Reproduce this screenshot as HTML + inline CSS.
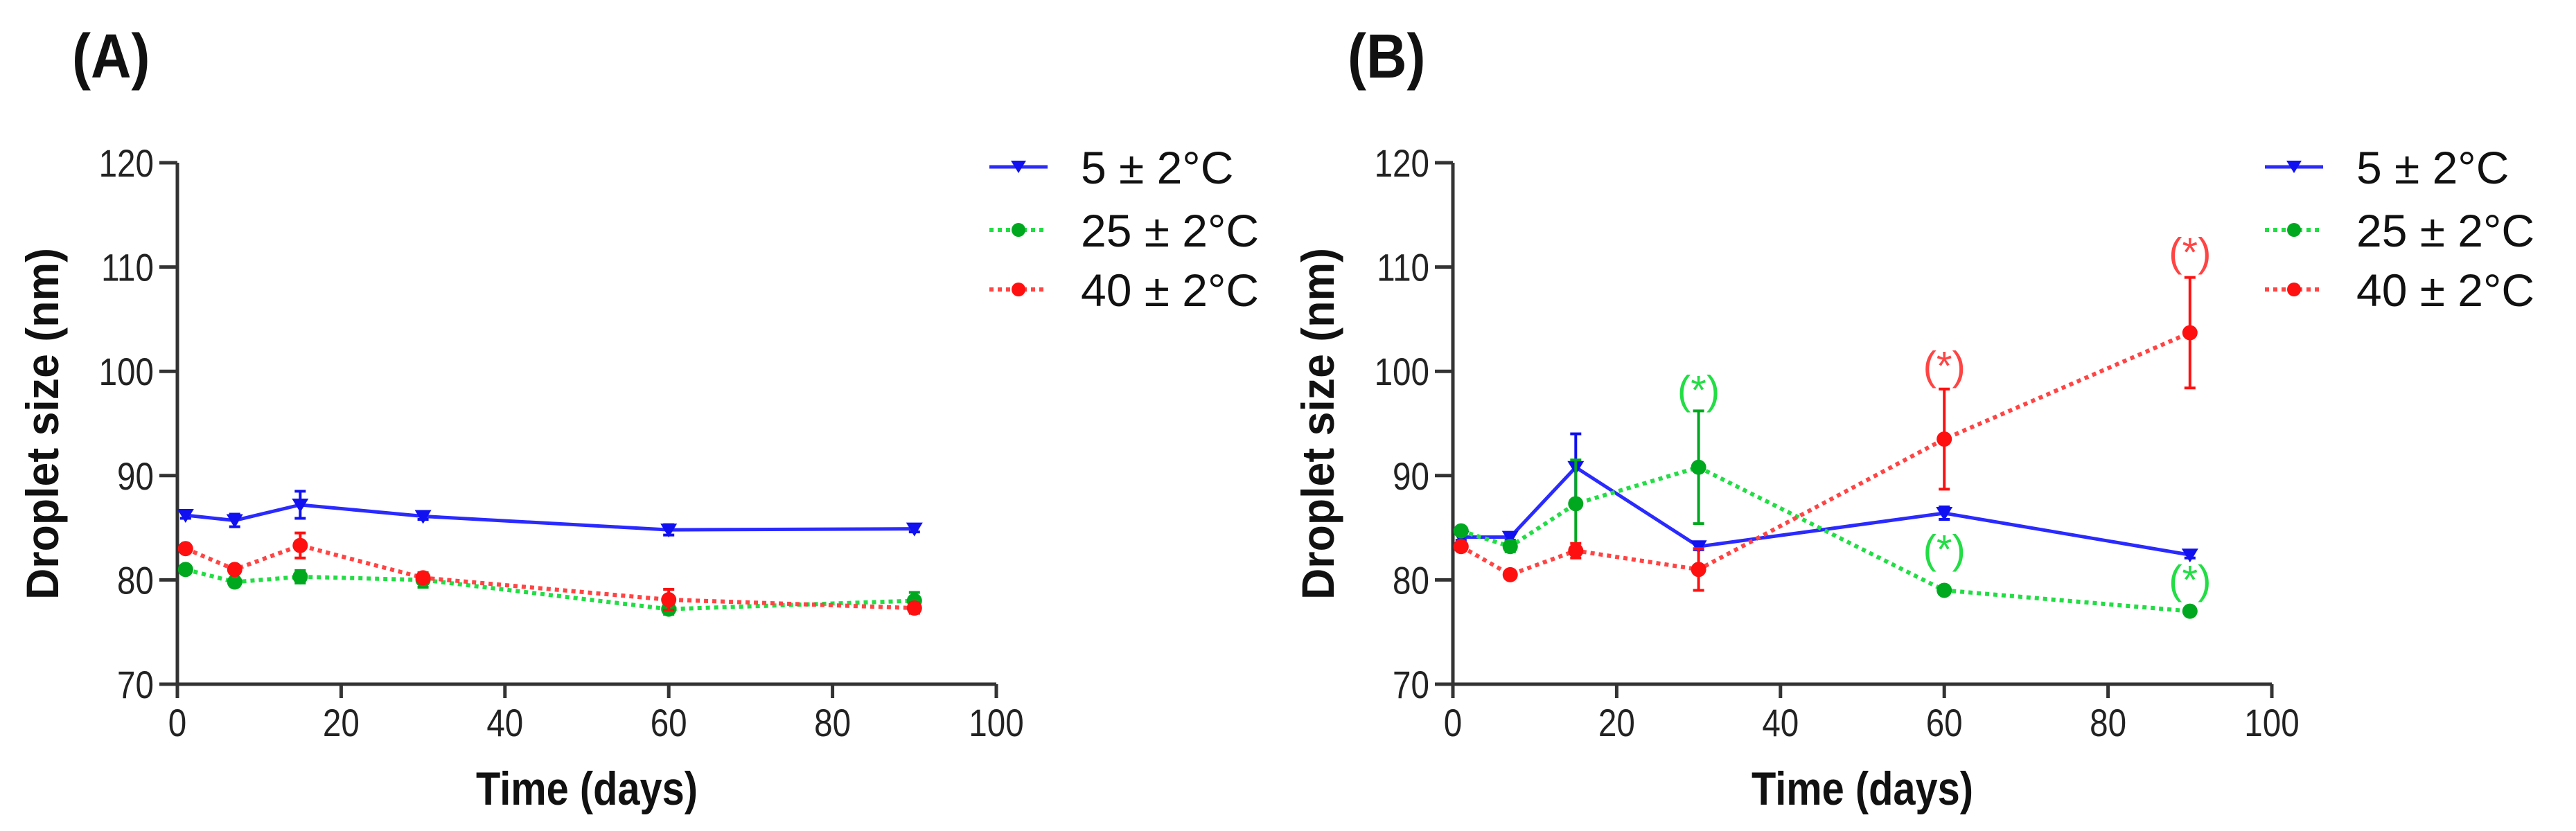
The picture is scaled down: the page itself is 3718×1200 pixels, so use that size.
<!DOCTYPE html>
<html><head><meta charset="utf-8"><style>
html,body{margin:0;padding:0;background:#fff;}
svg{display:block;font-family:"Liberation Sans",Arial,sans-serif;}
</style></head><body>
<svg id="fig" width="3718" height="1200" viewBox="0 0 3718 1200" xmlns="http://www.w3.org/2000/svg"></svg>
<script>
const days = [1, 7, 15, 30, 60, 90];
const xTicks = [0, 20, 40, 60, 80, 100];
const yTicks = [70, 80, 90, 100, 110, 120];
const seriesNames = ["5 ± 2°C", "25 ± 2°C", "40 ± 2°C"];
// Panel A
const a5 = [86.2, 85.7, 87.2, 86.1, 84.8, 84.9];
const a5err = [0.3, 0.6, 1.3, 0.3, 0.5, 0.3];
const a25 = [81.0, 79.8, 80.3, 80.0, 77.2, 78.0];
const a25err = [0.3, 0.4, 0.6, 0.7, 0.5, 0.8];
const a40 = [83.0, 81.0, 83.3, 80.2, 78.1, 77.3];
const a40err = [0.3, 0.3, 1.2, 0.4, 1.0, 0.5];
// Panel B
const b5 = [84.1, 84.1, 90.8, 83.2, 86.4, 82.4];
const b5err = [0.3, 0.3, 3.2, 0.3, 0.6, 0.3];
const b25 = [84.7, 83.2, 87.3, 90.8, 79.0, 77.0];
const b25err = [0.3, 0.5, 4.2, 5.4, 0.3, 0.3];
const b40 = [83.2, 80.5, 82.8, 81.0, 93.5, 103.7];
const b40err = [0.4, 0.3, 0.7, 2.0, 4.8, 5.3];
// significance marks panel B
const sigSeries = ["25", "40", "25", "40", "25"];
const sigDays = [30, 60, 60, 90, 90];
const sigVals = [98.2, 100.5, 82.9, 111.4, 80.0];

const NS = "http://www.w3.org/2000/svg";
const svg = document.getElementById("fig");
function el(tag, attrs, parent) {
  const e = document.createElementNS(NS, tag);
  for (const k in attrs) e.setAttribute(k, attrs[k]);
  (parent || svg).appendChild(e);
  return e;
}
const colors = {
  "5": {line: "#2a2aff", mark: "#1010f0"},
  "25": {line: "#22dd44", mark: "#00a820"},
  "40": {line: "#ff4444", mark: "#ff1010"}
};

function panel(ox, label, data, name, sig) {
  const x0 = ox, x1 = ox + 1182, yTop = 235, yBot = 988;
  const sx = v => x0 + (v - 0) / 100 * (x1 - x0);
  const sy = v => yBot - (v - 70) / 50 * (yBot - yTop);
  const g = el("g", {});
  
  
  const lx0 = ox - 152;
  const t = el("text", {x: lx0, y: 112, "font-size": 90, "font-weight": "bold", fill: "#111", transform: `translate(${lx0},0) scale(0.9,1) translate(${-lx0},0)`}, g);
  t.textContent = label;
  
  
  const ax = el("path", {d: `M${x0},${yTop} V${yBot} H${x1}`, stroke: "#333", "stroke-width": 5, fill: "none"}, g);
  
  
  yTicks.forEach(v => {
    const y = sy(v);
    const tk = el("line", {x1: x0 - 26, x2: x0, y1: y, y2: y, stroke: "#333", "stroke-width": 5}, g);
    
    
    const tx = x0 - 34;
    const lb = el("text", {x: tx, y: y + 20, "font-size": 56, "text-anchor": "end", fill: "#222", transform: `translate(${tx},0) scale(0.85,1) translate(${-tx},0)`}, g);
    lb.textContent = v;
    
    
  });
  xTicks.forEach(v => {
    const x = sx(v);
    const tk = el("line", {x1: x, x2: x, y1: yBot, y2: yBot + 20, stroke: "#333", "stroke-width": 5}, g);
    
    
    const lb = el("text", {x: x, y: yBot + 75, "font-size": 56, "text-anchor": "middle", fill: "#222", transform: `translate(${x},0) scale(0.85,1) translate(${-x},0)`}, g);
    lb.textContent = v;
    
    
  });
  const xt = el("text", {x: (x0 + x1) / 2, y: 1162, "font-size": 68, "font-weight": "bold", "text-anchor": "middle", fill: "#111", transform: `translate(${(x0+x1)/2},0) scale(0.85,1) translate(${-(x0+x1)/2},0)`}, g);
  xt.textContent = "Time (days)";
  
  
  const yc = 612, xc = ox - 172;
  const yt = el("text", {x: 0, y: 0, "font-size": 66, "font-weight": "bold", "text-anchor": "middle", fill: "#111", textLength: 508, lengthAdjust: "spacingAndGlyphs", transform: `translate(${xc},${yc}) rotate(-90)`}, g);
  yt.textContent = "Droplet size (nm)";
  
  

  const keys = ["5", "25", "40"];
  keys.forEach((k, si) => {
    const vals = data[si][0], errs = data[si][1];
    const c = colors[k];
    const sg = el("g", {}, g);
    
    
    const pts = days.map((d, i) => sx(d) + "," + sy(vals[i])).join(" ");
    const ln = el("polyline", {points: pts, fill: "none", stroke: c.line, "stroke-width": k === "5" ? 5 : 6, "stroke-dasharray": k === "5" ? "none" : "6 6"}, sg);
    
    
    days.forEach((d, i) => {
      const x = sx(d), y = sy(vals[i]), yh = sy(vals[i] + errs[i]), yl = sy(vals[i] - errs[i]);
      const eb = el("path", {d: `M${x},${yh} V${yl} M${x-8},${yh} H${x+8} M${x-8},${yl} H${x+8}`, stroke: c.mark, "stroke-width": 4, fill: "none"}, sg);
      
      
      let m;
      if (k === "5") m = el("path", {d: `M${x-12},${y-9} H${x+12} L${x},${y+11} Z`, fill: c.mark}, sg);
      else m = el("circle", {cx: x, cy: y, r: 11, fill: c.mark}, sg);
      
      
    });
  });
  if (sig) {
    sigDays.forEach((d, i) => {
      const k = sigSeries[i];
      const s = el("text", {x: sx(d), y: sy(sigVals[i]) + 20, "font-size": 58, "text-anchor": "middle", fill: k === "25" ? "#22dd44" : "#ff4444"}, g);
      s.textContent = "(*)";
      
      
    });
  }
  const lx = ox + 1172, tx = ox + 1304;
  const rows = [241, 332, 418];
  keys.forEach((k, i) => {
    const c = colors[k], y = rows[i];
    const lg = el("g", {}, g);
    
    
    el("line", {x1: lx, x2: lx + 84, y1: y, y2: y, stroke: c.line, "stroke-width": k === "5" ? 5 : 6, "stroke-dasharray": k === "5" ? "none" : "6 6"}, lg);
    const mx = lx + 42;
    if (k === "5") el("path", {d: `M${mx-11},${y-9} H${mx+11} L${mx},${y+9} Z`, fill: c.mark}, lg);
    else el("circle", {cx: mx, cy: y, r: 10, fill: c.mark}, lg);
    const lt = el("text", {x: tx, y: y + 24, "font-size": 66, fill: "#111"}, lg);
    lt.textContent = seriesNames[i];
  });
}
panel(256, "(A)", [[a5, a5err], [a25, a25err], [a40, a40err]], "panel-a", false);
panel(2097, "(B)", [[b5, b5err], [b25, b25err], [b40, b40err]], "panel-b", true);
</script>
</body></html>
